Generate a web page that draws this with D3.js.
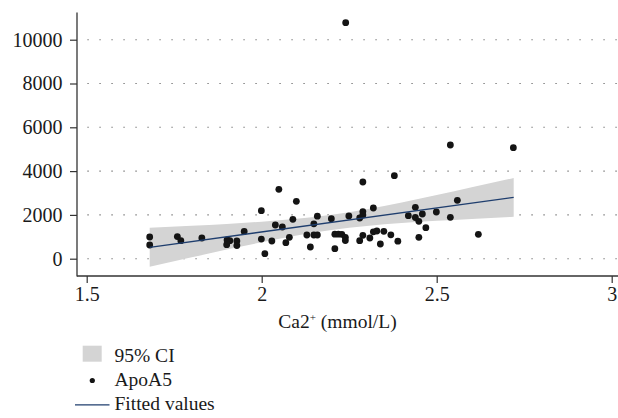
<!DOCTYPE html>
<html><head><meta charset="utf-8">
<script src="https://cdn.jsdelivr.net/npm/d3@7"></script>
<style>
html,body{margin:0;padding:0;background:#fff;}
svg{display:block;font-family:"Liberation Serif","DejaVu Serif",serif;}
</style></head>
<body><svg id="c" width="618" height="418"></svg>
<script>
// ---- data ----
const caX = [1.680,1.680,1.759,1.769,1.829,1.901,1.909,1.900,1.929,1.929,1.950,1.999,1.999,2.009,2.029,2.039,2.049,2.059,2.069,2.079,2.089,2.099,2.129,2.139,2.149,2.149,2.159,2.159,2.199,2.209,2.219,2.229,2.239,2.239,2.209,2.240,2.249,2.280,2.289,2.289,2.289,2.280,2.289,2.309,2.319,2.319,2.329,2.339,2.349,2.369,2.379,2.389,2.419,2.439,2.439,2.449,2.459,2.449,2.469,2.499,2.539,2.539,2.559,2.619,2.719];
const apoA5 = [990,625,1010,822,945,854,822,639,808,603,1242,2192,895,228,808,1539,3169,1447,731,977,1799,2621,1082,534,1594,1082,1082,1941,1826,1119,1119,1114,977,831,457,10776,1950,1858,3502,2150,1995,822,1068,945,2315,1228,1265,671,1251,1091,3790,799,1963,2347,1881,1708,2041,977,1416,2132,5192,1890,2667,1114,5068];
const fitX = [1.68, 2.72];
const fitY = [520, 2800];
const ciX = [1.68,1.8,1.9,2.0,2.1,2.2,2.3,2.4,2.5,2.6,2.72];
const ciLow = [-369,63,415,751,1057,1310,1495,1628,1730,1817,1911];
const ciHigh = [1409,1503,1589,1691,1825,2010,2263,2568,2904,3257,3689];
const yTicks = [0,2000,4000,6000,8000,10000];
const xTicks = [1.5,2,2.5,3];
const xTickLabels = ["1.5","2","2.5","3"];
const legendLabels = ["95% CI","ApoA5","Fitted values"];

// ---- layout ----
const svg = d3.select("#c");
const x = d3.scaleLinear().domain([1.5,3]).range([86.7,611.7]);
const y = d3.scaleLinear().domain([0,10000]).range([258.7,39.7]);
const axX0 = 77, axY0 = 276, axTop = 12.5, axRight = 618;
const fsTick = 20, fs = 19.5;
const serif = "Liberation Serif";

// grid
svg.append("g").selectAll("line").data(yTicks).join("line")
  .attr("x1",87.5).attr("x2",axRight).attr("y1",d=>y(d)).attr("y2",d=>y(d))
  .attr("stroke","#555").attr("stroke-width",1.1).attr("stroke-dasharray","1.1,10.9");

// CI band
const band = ciX.map((d,i)=>({x:d,lo:ciLow[i],hi:ciHigh[i]}));
svg.append("path").datum(band)
  .attr("d", d3.area().x(d=>x(d.x)).y0(d=>y(d.lo)).y1(d=>y(d.hi)).curve(d3.curveMonotoneX))
  .attr("fill","#d4d4d4");

// points
svg.append("g").selectAll("circle").data(caX.map((d,i)=>[d,apoA5[i]])).join("circle")
  .attr("cx",d=>x(d[0])).attr("cy",d=>y(d[1])).attr("r",3.4).attr("fill","#141414");

// fit line
svg.append("path").datum(fitX.map((d,i)=>[d,fitY[i]]))
  .attr("d", d3.line().x(d=>x(d[0])).y(d=>y(d[1])))
  .attr("stroke","#1f3e6e").attr("stroke-width",1.3).attr("fill","none");

// axes
const ya = svg.append("g").attr("transform",`translate(${axX0},0)`)
  .call(d3.axisLeft(y).tickValues(yTicks).tickSize(7).tickPadding(7.5).tickFormat(d3.format("d")));
ya.select(".domain").remove();
ya.selectAll("line").attr("stroke","#333").attr("stroke-width",1.2);
ya.selectAll("text").attr("font-size",fsTick).attr("font-family",serif).attr("fill","#1a1a1a");

const xa = svg.append("g").attr("transform",`translate(0,${axY0})`)
  .call(d3.axisBottom(x).tickValues(xTicks).tickSize(7).tickPadding(3.5).tickFormat((d,i)=>xTickLabels[i]));
xa.select(".domain").remove();
xa.selectAll("line").attr("stroke","#333").attr("stroke-width",1.2);
xa.selectAll("text").attr("font-size",fsTick).attr("font-family",serif).attr("fill","#1a1a1a");

svg.append("line").attr("x1",axX0).attr("x2",axX0).attr("y1",axTop).attr("y2",axY0+0.6)
  .attr("stroke","#333").attr("stroke-width",1.3);
svg.append("line").attr("x1",axX0).attr("x2",axRight).attr("y1",axY0).attr("y2",axY0)
  .attr("stroke","#333").attr("stroke-width",1.3);

// x title
const t = svg.append("text").attr("x",337.5).attr("y",328).attr("text-anchor","middle")
  .attr("font-family",serif).attr("font-size",fs).attr("fill","#1a1a1a");
t.append("tspan").text("Ca2");
t.append("tspan").text("+").attr("font-size",11).attr("dy",-7);
t.append("tspan").text(" (mmol/L)").attr("dy",7);

// legend
const lg = svg.append("g");
lg.append("rect").attr("x",82.7).attr("y",345.7).attr("width",19).attr("height",16).attr("fill","#d4d4d4");
lg.append("circle").attr("cx",92.3).attr("cy",380.5).attr("r",2.6).attr("fill","#141414");
lg.append("line").attr("x1",75).attr("x2",109.5).attr("y1",404.8).attr("y2",404.8)
  .attr("stroke","#1f3e6e").attr("stroke-width",1.3);
lg.selectAll("text").data(legendLabels).join("text")
  .attr("x",114.5).attr("y",(d,i)=>361.5+i*24.2).attr("font-family",serif).attr("font-size",fs).attr("fill","#1a1a1a").text(d=>d);
</script></body></html>
